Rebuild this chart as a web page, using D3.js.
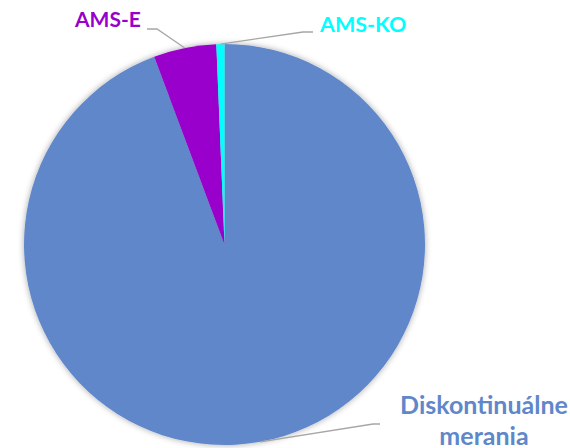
<!DOCTYPE html>
<html>
<head>
<meta charset="utf-8">
<script src="https://cdn.jsdelivr.net/npm/d3@7"></script>
<style>
  html, body { margin: 0; padding: 0; background: #fff; }
  svg { display: block; }
  text { font-family: Lato, "Open Sans", sans-serif; font-weight: bold; }
</style>
</head>
<body>
<div id="chart"></div>
<script>
// data
var categories = ["Diskontinuálne merania", "AMS-E", "AMS-KO"];
var values = [94.3, 5.05, 0.65];
var colors = ["#5F87CA", "#9900CC", "#00FFFF"];

// layout of the labels (text anchor point and end of leader line)
var labelLayout = [
  { x: 484, y: 414, size: 25, anchor: "middle", lineEnd: [380, 424], elbow: [373, 424] },
  { x: 75,  y: 27,  size: 21, anchor: "start",  lineEnd: [147, 29],  elbow: [157, 29] },
  { x: 320, y: 32,  size: 21.5, anchor: "start",  lineEnd: [313, 32],  elbow: [303, 32] }
];

var w = 570, h = 448;
var cx = 224.5, cy = 244.5, r = 200.5;

var svg = d3.select("#chart").append("svg")
  .attr("width", w)
  .attr("height", h);

var defs = svg.append("defs");
var f = defs.append("filter").attr("id", "shadow")
  .attr("x", "-10%").attr("y", "-10%").attr("width", "120%").attr("height", "120%");
f.append("feDropShadow")
  .attr("dx", 0).attr("dy", 0)
  .attr("stdDeviation", 3)
  .attr("flood-color", "#000")
  .attr("flood-opacity", 0.35);

var pie = d3.pie().sort(null).value(function(d) { return d; });
var arcs = pie(values);
var arc = d3.arc().innerRadius(0).outerRadius(r);

var g = svg.append("g").attr("transform", "translate(" + cx + "," + cy + ")");

g.append("g")
  .attr("filter", "url(#shadow)")
  .selectAll("path")
  .data(arcs)
  .enter()
  .append("path")
  .attr("d", arc)
  .attr("fill", function(d, i) { return colors[i]; });

// leader lines from slice mid-angle on the rim
var rim = function(d) {
  var a = (d.startAngle + d.endAngle) / 2;
  return [cx + r * Math.sin(a), cy - r * Math.cos(a)];
};

svg.append("g").selectAll("polyline")
  .data(arcs)
  .enter()
  .append("polyline")
  .attr("points", function(d, i) {
    var p = rim(d), L = labelLayout[i];
    return [p, L.elbow, L.lineEnd].map(function(q) { return q.join(","); }).join(" ");
  })
  .attr("fill", "none")
  .attr("stroke", "#A6A6A6")
  .attr("stroke-width", 1.3);

// labels
var lbl = svg.append("g").selectAll("text")
  .data(categories)
  .enter()
  .append("text")
  .attr("x", function(d, i) { return labelLayout[i].x; })
  .attr("y", function(d, i) { return labelLayout[i].y; })
  .attr("text-anchor", function(d, i) { return labelLayout[i].anchor; })
  .attr("font-size", function(d, i) { return labelLayout[i].size; })
  .attr("fill", function(d, i) { return colors[i]; });

lbl.each(function(d, i) {
  var words = i === 0 ? ["Diskontinuálne", "merania"] : [d];
  var t = d3.select(this);
  words.forEach(function(wd, k) {
    t.append("tspan")
      .attr("x", labelLayout[i].x)
      .attr("dy", k === 0 ? 0 : 30.5)
      .text(wd);
  });
});
</script>
</body>
</html>
